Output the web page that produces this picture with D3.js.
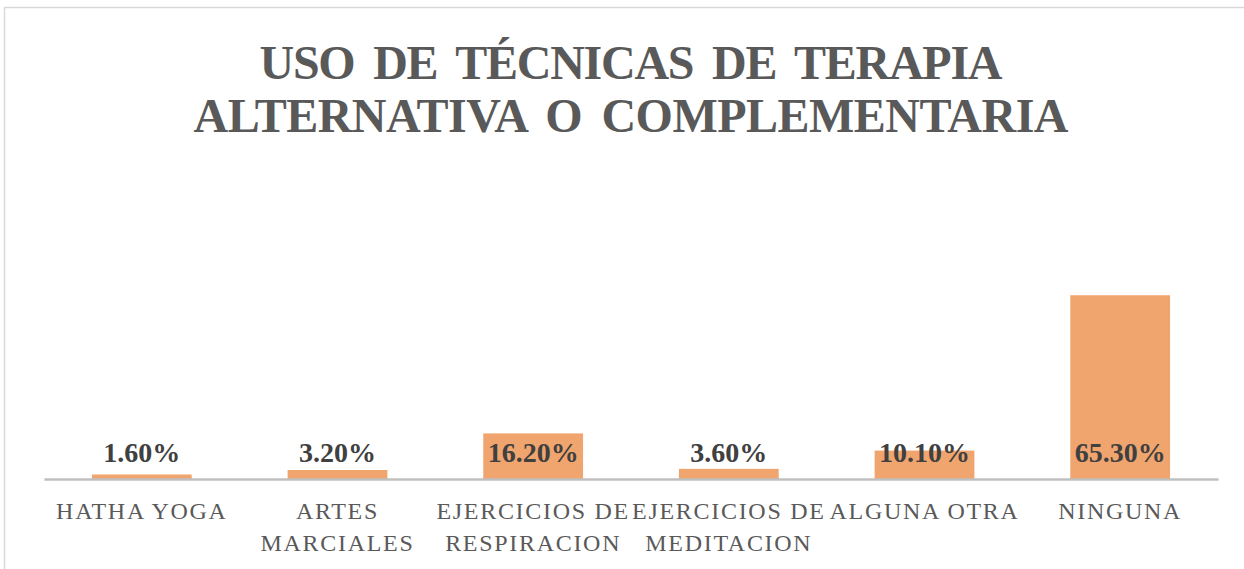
<!DOCTYPE html>
<html><head><meta charset="utf-8">
<script src="https://cdn.jsdelivr.net/npm/d3@7/dist/d3.min.js"></script>
<style>html,body{margin:0;padding:0;background:#fff;}svg{display:block;}</style>
</head><body>
<svg id="chart" width="1244" height="569"></svg>
<script>
const categories = [["HATHA YOGA"],["ARTES","MARCIALES"],["EJERCICIOS DE","RESPIRACION"],["EJERCICIOS DE","MEDITACION"],["ALGUNA OTRA"],["NINGUNA"]];
const values = [1.6, 3.2, 16.2, 3.6, 10.1, 65.3];
const valueLabels = ["1.60%","3.20%","16.20%","3.60%","10.10%","65.30%"];
const titleLines = ["USO DE TÉCNICAS DE TERAPIA","ALTERNATIVA O COMPLEMENTARIA"];

const svg = d3.select("#chart");
svg.append("rect").attr("x",4.5).attr("y",7.5).attr("width",1260).attr("height",600)
  .attr("fill","#fff").attr("stroke","#d9d9d9").attr("stroke-width",1.5);

const idx = d3.range(values.length);
const x = d3.scaleBand().domain(idx).range([44,1218]).paddingInner(0.49).paddingOuter(0.245);
const y = d3.scaleLinear().domain([0,70]).range([479,282]);

// title
const tw = [743, 875];
svg.selectAll("text.title").data(titleLines).join("text").attr("class","title")
  .attr("x",631).attr("y",(d,i)=>79+i*53).attr("text-anchor","middle")
  .attr("font-family","'Liberation Serif','Times New Roman',serif").attr("font-weight","bold")
  .attr("font-size",48).attr("fill","#595959").attr("word-spacing",8)
  .attr("textLength",(d,i)=>tw[i]).attr("lengthAdjust","spacing")
  .text(d=>d);

// bars
svg.selectAll("rect.bar").data(idx).join("rect").attr("class","bar")
  .attr("x",i=>x(i)).attr("width",x.bandwidth())
  .attr("y",i=>y(values[i])).attr("height",i=>y(0)-y(values[i]))
  .attr("fill","#f1a56e");

// axis
const axis = svg.append("g").attr("transform",`translate(0,${y(0)})`)
  .call(d3.axisBottom(x).tickSize(0).tickFormat(""));
axis.select(".domain").attr("stroke","#bfbfbf").attr("stroke-width",2.5);

// category labels
const cat = svg.selectAll("text.cat").data(idx).join("text").attr("class","cat")
  .attr("text-anchor","middle")
  .attr("font-family","'Liberation Serif','Times New Roman',serif")
  .attr("font-size",24).attr("fill","#595959").attr("letter-spacing",1.7);
cat.each(function(i){
  const t = d3.select(this);
  categories[i].forEach((line,j)=>{
    t.append("tspan").attr("x",x(i)+x.bandwidth()/2).attr("y",519+j*32).text(line);
  });
});

// value labels
svg.selectAll("text.val").data(idx).join("text").attr("class","val")
  .attr("x",i=>x(i)+x.bandwidth()/2).attr("y",462).attr("text-anchor","middle")
  .attr("font-family","'Liberation Serif','Times New Roman',serif").attr("font-weight","bold")
  .attr("font-size",28).attr("fill","#404040")
  .text(i=>valueLabels[i]);
</script>
</body></html>
